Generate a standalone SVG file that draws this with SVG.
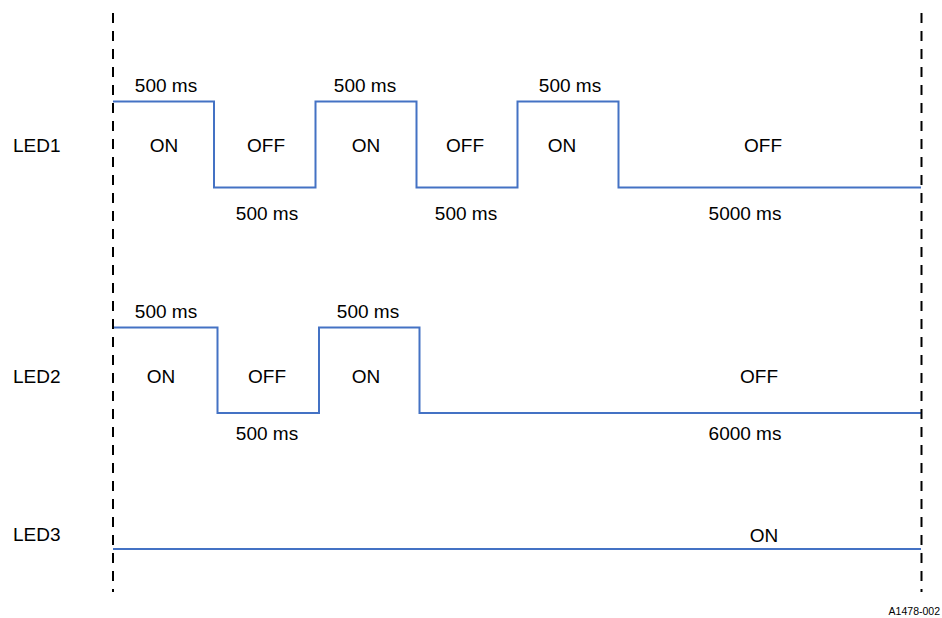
<svg xmlns="http://www.w3.org/2000/svg" width="942" height="618" viewBox="0 0 942 618">
<style>
text{font-family:"Liberation Sans",Arial,sans-serif;font-size:19px;fill:#000}
.c{text-anchor:middle}
.wave{fill:none;stroke:#4472C4;stroke-width:2}
.dash{fill:none;stroke:#000;stroke-width:2;stroke-dasharray:10 8}
.id{font-size:10.5px;text-anchor:end}
</style>
<rect width="942" height="618" fill="#fff"/>
<g id="connectors">
<path class="wave" d="M113,101.5 H214 V187.5 H315.5 V101.5 H416.5 V187.5 H517.5 V101.5 H618.5 V187.5 H921"/>
<path class="wave" d="M113,327.5 H217.5 V413 H319 V327.5 H419.5 V413 H921"/>
<path class="wave" d="M113,549 H921"/>
<line class="dash" x1="113" y1="13" x2="113" y2="592"/>
<line class="dash" x1="921.5" y1="13" x2="921.5" y2="592"/>
</g>
<g id="led1">
<text x="13" y="151.5">LED1</text>
<text class="c" x="166" y="92">500 ms</text>
<text class="c" x="365" y="92">500 ms</text>
<text class="c" x="570" y="92">500 ms</text>
<text class="c" x="164" y="151.5">ON</text>
<text class="c" x="266" y="151.5">OFF</text>
<text class="c" x="366" y="151.5">ON</text>
<text class="c" x="465" y="151.5">OFF</text>
<text class="c" x="562" y="151.5">ON</text>
<text class="c" x="763" y="151.5">OFF</text>
<text class="c" x="267" y="219.5">500 ms</text>
<text class="c" x="466" y="219.5">500 ms</text>
<text class="c" x="745" y="219.5">5000 ms</text>
</g>
<g id="led2">
<text x="13" y="383">LED2</text>
<text class="c" x="166" y="317.5">500 ms</text>
<text class="c" x="368" y="317.5">500 ms</text>
<text class="c" x="161" y="383">ON</text>
<text class="c" x="267" y="383">OFF</text>
<text class="c" x="366" y="383">ON</text>
<text class="c" x="759" y="383">OFF</text>
<text class="c" x="267" y="440">500 ms</text>
<text class="c" x="745" y="440">6000 ms</text>
</g>
<g id="led3">
<text x="13" y="541">LED3</text>
<text class="c" x="764" y="542">ON</text>
</g>
<text class="id" x="940" y="615">A1478-002</text>
</svg>
